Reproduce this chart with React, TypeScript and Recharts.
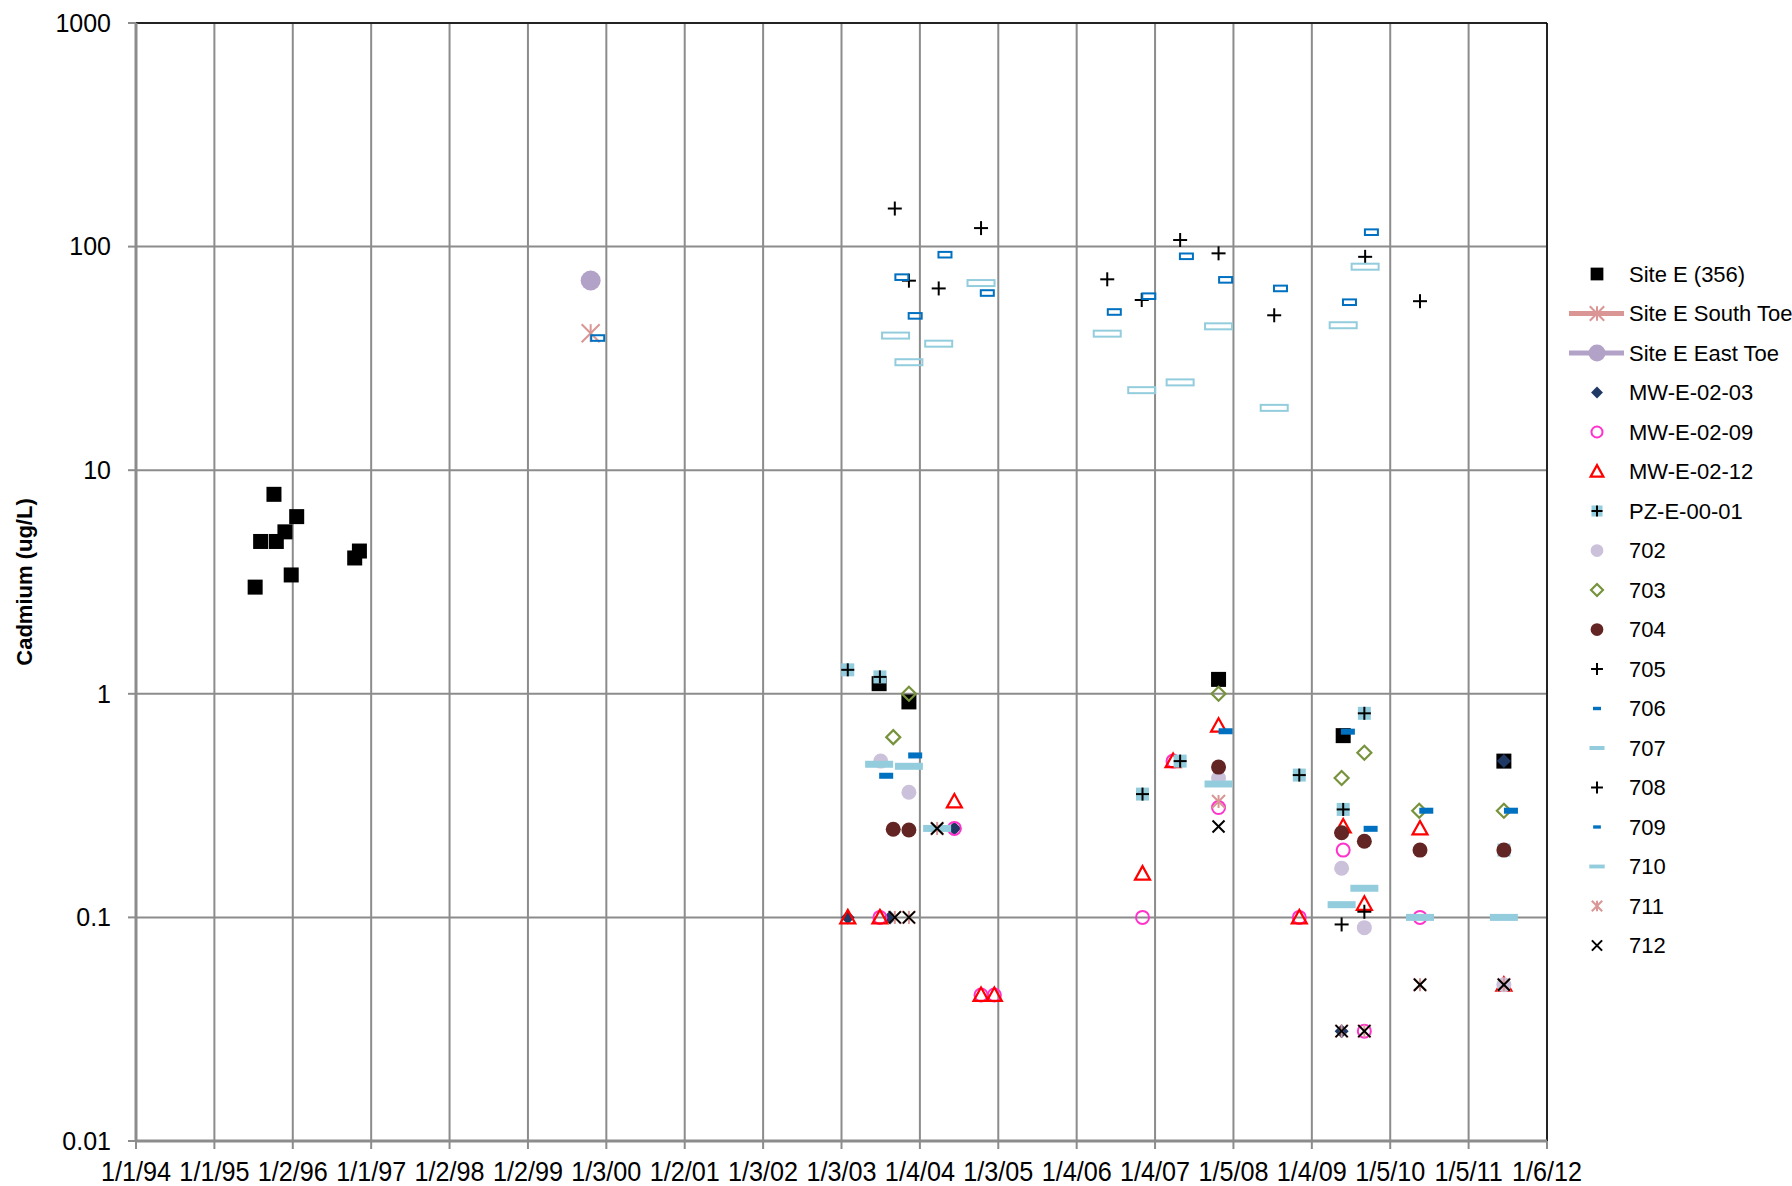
import React from 'react';
import { ScatterChart, Scatter, XAxis, YAxis, CartesianGrid, Legend, ReferenceLine } from 'recharts';

// x = decimal year (axis ticks every ~365.5 days from 1/1/94), y = Cadmium ug/L
const xTicks = [1994, 1995, 1996, 1997, 1998, 1999, 2000, 2001, 2002, 2003, 2004, 2005, 2006, 2007, 2008, 2009, 2010, 2011, 2012];
const xTickLabels = ['1/1/94', '1/1/95', '1/2/96', '1/1/97', '1/2/98', '1/2/99', '1/3/00', '1/2/01', '1/3/02', '1/3/03', '1/4/04', '1/3/05', '1/4/06', '1/4/07', '1/5/08', '1/4/09', '1/5/10', '1/5/11', '1/6/12'];
const yTicks = [0.01, 0.1, 1, 10, 100, 1000];
const yTickLabels = ['0.01', '0.1', '1', '10', '100', '1000'];

const siteE = [[1995.52, 3.0], [1995.59, 4.8], [1995.76, 7.8], [1995.79, 4.8], [1995.9, 5.3], [1995.98, 3.4], [1996.05, 6.2], [1996.79, 4.05], [1996.85, 4.35], [2003.48, 1.11], [2003.86, 0.92], [2007.81, 1.16], [2009.4, 0.65], [2011.45, 0.5]];
const southToe = [[1999.8, 41]];
const eastToe = [[1999.8, 70.5]];
const mw0203 = [[2003.08, 0.1], [2003.62, 0.1], [2004.44, 0.25], [2009.38, 0.031], [2011.45, 0.5]];
const mw0209 = [[2003.49, 0.1], [2004.44, 0.25], [2004.78, 0.045], [2004.95, 0.045], [2006.84, 0.1], [2007.23, 0.5], [2007.81, 0.31], [2008.84, 0.1], [2009.4, 0.2], [2009.67, 0.031], [2010.38, 0.1]];
const mw0212 = [[2003.08, 0.1], [2003.49, 0.1], [2004.44, 0.33], [2004.78, 0.045], [2004.95, 0.045], [2006.84, 0.157], [2007.23, 0.5], [2007.81, 0.72], [2008.84, 0.1], [2009.4, 0.255], [2009.67, 0.115], [2010.38, 0.25], [2011.45, 0.05]];
const pz0001 = [[2003.08, 1.28], [2003.49, 1.19], [2006.84, 0.356], [2007.32, 0.5], [2008.84, 0.433], [2009.4, 0.304], [2009.67, 0.818], [2011.45, 0.2]];
const w702 = [[2003.5, 0.5], [2003.86, 0.363], [2007.81, 0.42], [2009.38, 0.166], [2009.67, 0.09], [2011.45, 0.05]];
const w703 = [[2003.66, 0.64], [2003.86, 1.0], [2007.81, 1.0], [2009.38, 0.42], [2009.67, 0.545], [2010.37, 0.3], [2011.45, 0.3]];
const w704 = [[2003.66, 0.248], [2003.86, 0.246], [2007.81, 0.47], [2009.38, 0.239], [2009.67, 0.219], [2010.38, 0.2], [2011.45, 0.2]];
const w705 = [[2003.68, 148], [2003.86, 70.4], [2004.24, 65], [2004.78, 121], [2006.39, 71.4], [2006.83, 57.7], [2007.32, 107], [2007.81, 93.3], [2008.52, 49.3], [2009.68, 90], [2010.38, 57]];
const w706 = [[1999.89, 39], [2003.77, 73], [2003.94, 49], [2004.32, 92], [2004.86, 62], [2006.48, 51], [2006.92, 60], [2007.4, 90.5], [2007.9, 71], [2008.6, 65], [2009.48, 56.4], [2009.76, 116]];
const w707 = [[2003.69, 40], [2003.86, 30.4], [2004.24, 36.8], [2004.78, 68.7], [2006.39, 40.8], [2006.83, 22.8], [2007.32, 24.7], [2007.81, 44], [2008.52, 19], [2009.4, 44.5], [2009.68, 81.3]];
const w708 = [[2009.38, 0.093], [2009.67, 0.106]];
const w709 = [[2003.57, 0.43], [2003.94, 0.53], [2007.9, 0.68], [2009.46, 0.677], [2009.75, 0.249], [2010.46, 0.3], [2011.54, 0.3]];
const w710 = [[2003.48, 0.484], [2003.86, 0.474], [2004.22, 0.25], [2007.81, 0.395], [2009.38, 0.114], [2009.67, 0.135], [2010.38, 0.1], [2011.45, 0.1]];
const w711 = [[2003.68, 0.1], [2003.86, 0.1], [2004.22, 0.25], [2007.81, 0.33], [2009.38, 0.031], [2009.67, 0.031], [2010.38, 0.05], [2011.45, 0.05]];
const w712 = [[2003.68, 0.1], [2003.86, 0.1], [2004.22, 0.25], [2007.81, 0.255], [2009.38, 0.031], [2009.67, 0.031], [2010.38, 0.05], [2011.45, 0.05]];

const series = [
  { name: 'Site E (356)', data: siteE, kind: 'square', color: '#000000' },
  { name: 'Site E South Toe', data: southToe, kind: 'asteriskBig', color: '#D99694', line: true },
  { name: 'Site E East Toe', data: eastToe, kind: 'circleBig', color: '#B3A2C7', line: true },
  { name: 'MW-E-02-03', data: mw0203, kind: 'diamond', color: '#1F3864' },
  { name: 'MW-E-02-09', data: mw0209, kind: 'ring', color: '#FF33CC' },
  { name: 'MW-E-02-12', data: mw0212, kind: 'triangle', color: '#FF0000' },
  { name: 'PZ-E-00-01', data: pz0001, kind: 'pz', color: '#93CDDD' },
  { name: '702', data: w702, kind: 'circle', color: '#CCC1DA' },
  { name: '703', data: w703, kind: 'diamondOpen', color: '#77933C' },
  { name: '704', data: w704, kind: 'circle', color: '#632523' },
  { name: '705', data: w705, kind: 'plus', color: '#000000' },
  { name: '706', data: w706, kind: 'dashOpen', color: '#0070C0' },
  { name: '707', data: w707, kind: 'wideOpen', color: '#93CDDD' },
  { name: '708', data: w708, kind: 'plus', color: '#000000' },
  { name: '709', data: w709, kind: 'dash', color: '#0070C0' },
  { name: '710', data: w710, kind: 'wide', color: '#93CDDD' },
  { name: '711', data: w711, kind: 'asterisk', color: '#D99694' },
  { name: '712', data: w712, kind: 'cross', color: '#000000' },
];

const GRID = '#8C8C8C';
const FONT = '"Liberation Sans", Arial, sans-serif';

function Marker({ kind, color, cx, cy, legend }: any) {
  const k = legend ? 0.85 : 1;
  const d = legend ? 0.55 : 1;
  switch (kind) {
    case 'square':
      return <rect x={cx - 7.5 * k} y={cy - 7.5 * k} width={15 * k} height={15 * k} fill={color} />;
    case 'circleBig':
      return <circle cx={cx} cy={cy} r={10 * k} fill={color} />;
    case 'circle':
      return <circle cx={cx} cy={cy} r={7.5 * k} fill={color} />;
    case 'ring':
      return <circle cx={cx} cy={cy} r={6.5 * k} fill="none" stroke={color} strokeWidth={2} />;
    case 'triangle': {
      const h = 7.5 * k;
      return <polygon points={`${cx},${cy - h} ${cx + h},${cy + h * 0.8} ${cx - h},${cy + h * 0.8}`} fill="none" stroke={color} strokeWidth={2.2} />;
    }
    case 'diamond': {
      const h = 7 * k;
      return <polygon points={`${cx},${cy - h} ${cx + h},${cy} ${cx},${cy + h} ${cx - h},${cy}`} fill={color} />;
    }
    case 'diamondOpen': {
      const h = 7 * k;
      return <polygon points={`${cx},${cy - h} ${cx + h},${cy} ${cx},${cy + h} ${cx - h},${cy}`} fill="none" stroke={color} strokeWidth={2.2} />;
    }
    case 'pz': {
      const h = 6.5 * k;
      return (
        <g>
          <rect x={cx - h} y={cy - h} width={2 * h} height={2 * h} fill={color} />
          <line x1={cx - h} x2={cx + h} y1={cy} y2={cy} stroke="#000" strokeWidth={2} />
          <line x1={cx} x2={cx} y1={cy - h} y2={cy + h} stroke="#000" strokeWidth={2} />
        </g>
      );
    }
    case 'plus': {
      const h = 7 * k;
      return (
        <g stroke={color} strokeWidth={2}>
          <line x1={cx - h} x2={cx + h} y1={cy} y2={cy} />
          <line x1={cx} x2={cx} y1={cy - h} y2={cy + h} />
        </g>
      );
    }
    case 'cross': {
      const h = 6 * k;
      return (
        <g stroke={color} strokeWidth={2}>
          <line x1={cx - h} x2={cx + h} y1={cy - h} y2={cy + h} />
          <line x1={cx - h} x2={cx + h} y1={cy + h} y2={cy - h} />
        </g>
      );
    }
    case 'asterisk':
    case 'asteriskBig': {
      const h = (kind === 'asteriskBig' ? 9 : 6.5) * (legend ? 0.8 : 1);
      return (
        <g stroke={color} strokeWidth={2}>
          <line x1={cx - h} x2={cx + h} y1={cy - h} y2={cy + h} />
          <line x1={cx - h} x2={cx + h} y1={cy + h} y2={cy - h} />
          <line x1={cx} x2={cx} y1={cy - h} y2={cy + h} />
        </g>
      );
    }
    case 'dash':
      return <rect x={cx - 7 * d} y={cy - 3 * d} width={14 * d} height={6 * d} fill={color} />;
    case 'wide':
      return <rect x={cx - 14 * d} y={cy - 3.5 * d} width={28 * d} height={7 * d} fill={color} />;
    case 'dashOpen':
      return legend
        ? <rect x={cx - 4} y={cy - 1.7} width={8} height={3.4} fill={color} />
        : <rect x={cx - 6.5} y={cy - 2.8} width={13} height={5.6} fill="none" stroke={color} strokeWidth={2} />;
    case 'wideOpen':
      return legend
        ? <rect x={cx - 7.5} y={cy - 2} width={15} height={4} fill={color} />
        : <rect x={cx - 13.5} y={cy - 3} width={27} height={6} fill="none" stroke={color} strokeWidth={2} />;
    default:
      return null;
  }
}

const XTick = (props: any) => {
  const { x, y, payload, index } = props;
  return (
    <g transform={`translate(${x},${y}) scale(0.9,1)`}>
      <text x={0} y={0} dy="0.71em" textAnchor="middle" fontSize={28} fill="#000" fontFamily={FONT}>
        {xTickLabels[index] ?? payload.value}
      </text>
    </g>
  );
};

const LegendBox = () => (
  <svg width={232} height={720}>
    {series.map((s, i) => {
      const cy = 20 + i * 39.5;
      return (
        <g key={s.name}>
          {s.line && <line x1={9} x2={64} y1={cy} y2={cy} stroke={s.color} strokeWidth={5} />}
          <Marker kind={s.kind} color={s.color} cx={37} cy={cy} legend />
          <text x={69} y={cy} dy="0.36em" fontSize={22} fill="#000" fontFamily={FONT}>{s.name}</text>
        </g>
      );
    })}
  </svg>
);

const YLabel = (props: any) => {
  const { viewBox } = props;
  const x = 24;
  const y = viewBox.y + viewBox.height / 2;
  return (
    <text x={x} y={y} transform={`rotate(-90 ${x} ${y})`} textAnchor="middle" dy="0.36em" fontSize={22} fontWeight="bold" fill="#000" fontFamily={FONT}>
      Cadmium (ug/L)
    </text>
  );
};

export default function App() {
  return (
    <div style={{ position: 'absolute', left: 0, top: 0, background: '#fff' }}>
      <ScatterChart width={1792} height={1186} margin={{ top: 23, right: 245, bottom: 0, left: 0 }} style={{ fontFamily: FONT }}>
        <CartesianGrid stroke={GRID} strokeWidth={2} />
        <XAxis
          type="number"
          dataKey="x"
          domain={[1994, 2012]}
          ticks={xTicks}
          interval={0}
          allowDataOverflow
          height={45}
          tickSize={8}
          tickMargin={12}
          tick={<XTick />}
          axisLine={{ stroke: GRID, strokeWidth: 3 }}
          tickLine={{ stroke: GRID, strokeWidth: 2 }}
        />
        <YAxis
          type="number"
          dataKey="y"
          scale="log"
          domain={[0.01, 1000]}
          ticks={yTicks}
          interval={0}
          allowDataOverflow
          width={136}
          tickSize={8}
          tickMargin={17}
          tickFormatter={(v: number) => yTickLabels[yTicks.indexOf(v)] ?? String(v)}
          tick={{ fontSize: 25, fill: '#000', fontFamily: FONT }}
          axisLine={{ stroke: GRID, strokeWidth: 3 }}
          tickLine={{ stroke: GRID, strokeWidth: 2 }}
          label={<YLabel />}
        />
        <ReferenceLine y={1000} stroke="#000" strokeWidth={1.5} />
        <ReferenceLine x={2012} stroke="#000" strokeWidth={1.5} />
        {series.map((s) => (
          <Scatter
            key={s.name}
            name={s.name}
            data={s.data.map(([x, y]) => ({ x, y }))}
            isAnimationActive={false}
            shape={(p: any) => <Marker kind={s.kind} color={s.color} cx={p.cx} cy={p.cy} />}
          />
        ))}
        <Legend
          layout="vertical"
          align="center"
          verticalAlign="middle"
          content={<LegendBox />}
          wrapperStyle={{ position: 'absolute', left: 1560, top: 254, width: 232, height: 720 }}
        />
      </ScatterChart>
    </div>
  );
}
